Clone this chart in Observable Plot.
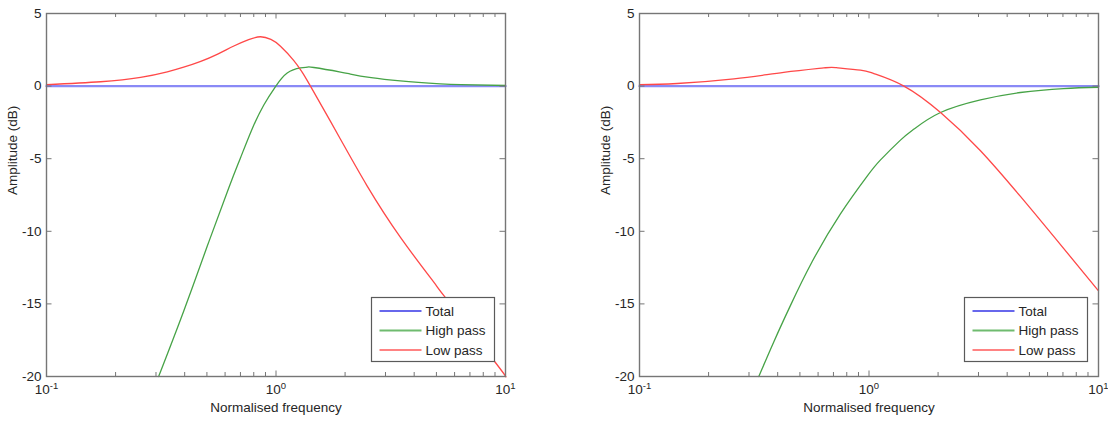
<!DOCTYPE html>
<html>
<head>
<meta charset="utf-8">
<script src="https://cdn.jsdelivr.net/npm/d3@7"></script>
<script src="https://cdn.jsdelivr.net/npm/@observablehq/plot@0.6"></script>
<style>
  html, body { margin: 0; padding: 0; background: #fff; }
  #charts { display: flex; width: 1108px; height: 426px; }
</style>
</head>
<body>
<div id="charts"></div>
<script>
// Axis ticks: normalised frequency (log) and amplitude in dB
const freqMajorTicks = [0.1, 1, 10];
const freqMinorTicks = [0.2, 0.3, 0.4, 0.5, 0.6, 0.7, 0.8, 0.9, 2, 3, 4, 5, 6, 7, 8, 9];
const gainTicks = [-20, -15, -10, -5, 0, 5];
const seriesNames = ["Total", "High pass", "Low pass"];

// Left panel
const leftTotalFreq = [0.1, 10];
const leftTotalGain = [0, 0];
const leftHighFreq = [0.308, 0.396, 0.501, 0.623, 0.700, 0.787, 0.885, 0.995, 1.119, 1.279, 1.37, 1.462, 1.91, 2.11, 2.6, 3.48, 5.2, 6.4, 10];
const leftHighGain = [-20, -15.5, -11.05, -7.0, -4.95, -2.95, -1.3, -0.03, 0.9, 1.25, 1.3, 1.28, 0.97, 0.83, 0.58, 0.36, 0.16, 0.1, 0.04];
const leftLowFreq = [0.1, 0.172, 0.257, 0.336, 0.396, 0.47, 0.56, 0.655, 0.76, 0.856, 0.95, 1.046, 1.196, 1.29, 1.413, 1.91, 2.49, 3.48, 4.87, 5.4, 8.95, 10];
const leftLowGain = [0.1, 0.3, 0.6, 0.98, 1.3, 1.7, 2.22, 2.76, 3.2, 3.4, 3.22, 2.75, 1.76, 1.04, 0, -3.66, -6.85, -10.4, -13.5, -14.45, -18.95, -20];

// Right panel
const rightTotalFreq = [0.1, 10];
const rightTotalGain = [0, 0];
const rightHighFreq = [0.331, 0.385, 0.455, 0.565, 0.751, 0.982, 1.12, 1.371, 1.57, 2.05, 3.06, 4.57, 7.05, 10];
const rightHighGain = [-20, -17.6, -15.1, -12.1, -8.8, -6.2, -5.1, -3.72, -2.96, -1.82, -0.95, -0.44, -0.17, -0.08];
const rightLowFreq = [0.1, 0.146, 0.258, 0.425, 0.635, 0.72, 0.918, 1.05, 1.42, 2.05, 3.06, 4.57, 6.38, 10];
const rightLowGain = [0.1, 0.18, 0.5, 0.94, 1.25, 1.27, 1.1, 0.86, 0, -1.82, -4.45, -7.6, -10.35, -14.1];

const toRows = (freq, gain) => freq.map((f, i) => ({f, g: gain[i]}));

const axisColor = "#767676";
const textColor = "#262626";
const fontFamily = "'Liberation Sans', Arial, Helvetica, sans-serif";
const seriesStyles = [
  {stroke: "#8a8af6", strokeWidth: 2.4},
  {stroke: "#47a347", strokeWidth: 1.3},
  {stroke: "#ff4848", strokeWidth: 1.3}
];
const legendStyles = [
  {stroke: "#3535e6", strokeWidth: 1.4},
  {stroke: "#6fbb6f", strokeWidth: 2},
  {stroke: "#ff5a5a", strokeWidth: 1.6}
];

function panel({total, high, low, marginLeft, marginRight}) {
  const width = 554, height = 426, marginTop = 13, marginBottom = 50;
  const innerW = width - marginLeft - marginRight;
  const innerH = height - marginTop - marginBottom;
  const minorLen = 4, majorLen = 5.5;

  const svg = Plot.plot({
    width, height, marginTop, marginBottom, marginLeft, marginRight,
    x: {type: "log", domain: [0.1, 10], axis: null},
    y: {domain: [-20, 5]},
    style: {fontFamily, fontSize: "13.5px", color: textColor, background: "white", overflow: "visible"},
    marks: [
      Plot.line(total, {x: "f", y: "g", ...seriesStyles[0]}),
      Plot.line(high, {x: "f", y: "g", curve: "natural", ...seriesStyles[1]}),
      Plot.line(low, {x: "f", y: "g", curve: "natural", ...seriesStyles[2]}),
      // inward tick marks on all four sides
      Plot.tickX(freqMinorTicks, {x: d => d, insetTop: innerH - minorLen, stroke: axisColor}),
      Plot.tickX(freqMinorTicks, {x: d => d, insetBottom: innerH - minorLen, stroke: axisColor}),
      Plot.tickX(freqMajorTicks, {x: d => d, insetTop: innerH - majorLen, stroke: axisColor}),
      Plot.tickX(freqMajorTicks, {x: d => d, insetBottom: innerH - majorLen, stroke: axisColor}),
      Plot.tickY(gainTicks, {y: d => d, insetRight: innerW - majorLen, stroke: axisColor}),
      Plot.tickY(gainTicks, {y: d => d, insetLeft: innerW - majorLen, stroke: axisColor}),
      Plot.frame({stroke: axisColor, strokeWidth: 1.4}),
      Plot.axisY({ticks: gainTicks, tickSize: 0, tickPadding: 5, tickFormat: d => `${d}`, label: null}),
      Plot.text(freqMajorTicks, {
        x: d => d, frameAnchor: "bottom", dy: 17,
        text: d => `10^${Math.round(Math.log10(d))}`
      }),
      Plot.text(["Normalised frequency"], {frameAnchor: "bottom", dy: 35}),
      Plot.text(["Amplitude (dB)"], {frameAnchor: "left", dx: -34, rotate: -90})
    ]
  });

  // power-of-ten labels with raised exponents
  d3.select(svg).selectAll("text").each(function () {
    const t = d3.select(this);
    const s = t.text();
    if (!/^10\^/.test(s)) return;
    const [base, exp] = s.split("^");
    t.text(null);
    t.append("tspan").text(base);
    t.append("tspan").attr("dy", "-0.5em").attr("font-size", "9.5px").text(exp);
  });

  // legend box in the lower-right corner of the axes
  const boxW = 123, boxH = 64;
  const bx = width - marginRight - 11 - boxW;
  const by = height - marginBottom - 15 - boxH;
  const g = d3.select(svg).append("g").attr("transform", `translate(${bx + 0.5},${by + 0.5})`);
  g.append("rect").attr("width", boxW).attr("height", boxH)
    .attr("fill", "white").attr("stroke", "#5a5a5a").attr("stroke-width", 1.2);
  const rowY = [13.5, 33, 52.5];
  seriesNames.forEach((name, i) => {
    g.append("line").attr("x1", 8).attr("x2", 50).attr("y1", rowY[i]).attr("y2", rowY[i])
      .attr("stroke", legendStyles[i].stroke).attr("stroke-width", legendStyles[i].strokeWidth);
    g.append("text").attr("x", 54).attr("y", rowY[i]).attr("dy", "0.35em")
      .attr("text-anchor", "start")
      .attr("fill", textColor).attr("font-size", "13.5px").attr("font-family", fontFamily)
      .text(name);
  });
  return svg;
}

const root = document.getElementById("charts");
root.append(panel({
  total: toRows(leftTotalFreq, leftTotalGain),
  high: toRows(leftHighFreq, leftHighGain),
  low: toRows(leftLowFreq, leftLowGain),
  marginLeft: 46, marginRight: 49
}));
root.append(panel({
  total: toRows(rightTotalFreq, rightTotalGain),
  high: toRows(rightHighFreq, rightHighGain),
  low: toRows(rightLowFreq, rightLowGain),
  marginLeft: 85, marginRight: 10
}));
</script>
</body>
</html>
